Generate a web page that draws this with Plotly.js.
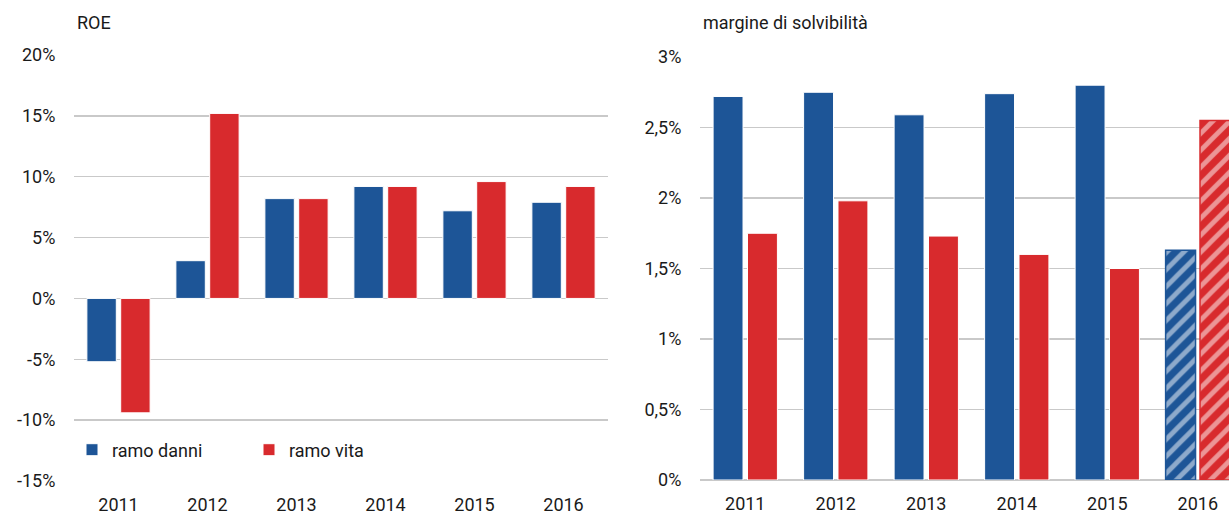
<!DOCTYPE html>
<html>
<head>
<meta charset="utf-8">
<script src="https://cdn.plot.ly/plotly-3.0.1.min.js"></script>
<style>html,body{margin:0;padding:0;background:#fff;}#chart{width:1229px;height:515px;}</style>
</head>
<body>
<div id="chart"></div>
<script>
const years = ['2011', '2012', '2013', '2014', '2015', '2016'];
const roeDanni = [-5.2, 3.1, 8.2, 9.2, 7.2, 7.9];
const roeVita = [-9.4, 15.2, 8.2, 9.2, 9.6, 9.2];
const solvDanni = [2.72, 2.75, 2.59, 2.74, 2.80, 1.63];
const solvVita = [1.75, 1.98, 1.73, 1.60, 1.50, 2.55];
const roeTicks = [-15, -10, -5, 0, 5, 10, 15, 20];
const roeTickText = ['-15%', '-10%', '-5%', '0%', '5%', '10%', '15%', '20%'];
const solvTicks = [0, 0.5, 1, 1.5, 2, 2.5, 3];
const solvTickText = ['0%', '0,5%', '1%', '1,5%', '2%', '2,5%', '3%'];
const seriesNames = ['ramo danni', 'ramo vita'];
const hatched = ['', '', '', '', '', '/'];

const BLUE = '#1d5597';
const RED = '#d82a2d';
const GRID = '#c9c9c9';
const FONT = 'Roboto, "Noto Sans", sans-serif';
const FS = 18;
const W = 1229, H = 515;

const traces = [
  {type: 'bar', x: years, y: roeDanni, name: seriesNames[0], xaxis: 'x', yaxis: 'y',
   marker: {color: BLUE, line: {color: '#ffffff', width: 1}}, hoverinfo: 'skip'},
  {type: 'bar', x: years, y: roeVita, name: seriesNames[1], xaxis: 'x', yaxis: 'y',
   marker: {color: RED, line: {color: '#ffffff', width: 1}}, hoverinfo: 'skip'},
  {type: 'bar', x: years, y: solvDanni, name: seriesNames[0], xaxis: 'x2', yaxis: 'y2', showlegend: false,
   marker: {color: BLUE,
     line: {color: hatched.map(h => h ? BLUE : '#ffffff'), width: hatched.map(h => h ? 1.5 : 1)},
     pattern: {shape: hatched, fgcolor: '#ffffff', bgcolor: BLUE, size: 12, solidity: 0.4, fillmode: 'overlay'}},
   hoverinfo: 'skip'},
  {type: 'bar', x: years, y: solvVita, name: seriesNames[1], xaxis: 'x2', yaxis: 'y2', showlegend: false,
   marker: {color: RED,
     line: {color: hatched.map(h => h ? RED : '#ffffff'), width: hatched.map(h => h ? 1.5 : 1)},
     pattern: {shape: hatched, fgcolor: '#ffffff', bgcolor: RED, size: 12, solidity: 0.4, fillmode: 'overlay'}},
   hoverinfo: 'skip'}
];

const px = v => v / W;
const py = v => 1 - v / H;

const commonY = {
  showgrid: true, gridcolor: GRID, gridwidth: 1.5,
  zeroline: true, zerolinecolor: GRID, zerolinewidth: 1.5,
  showline: false, tickmode: 'array', fixedrange: true,
  ticks: 'outside', ticklen: 14, tickcolor: 'rgba(0,0,0,0)',
  tickfont: {family: FONT, size: FS, color: '#1a1a1a'}
};
const commonX = {
  type: 'category', showgrid: false, zeroline: false, showline: false, fixedrange: true,
  ticks: 'outside', ticklen: 7, tickcolor: 'rgba(0,0,0,0)',
  tickfont: {family: FONT, size: FS, color: '#1a1a1a'}
};

const layout = {
  width: W, height: H,
  margin: {l: 0, r: 0, t: 0, b: 0},
  paper_bgcolor: '#ffffff', plot_bgcolor: '#ffffff',
  barmode: 'group', bargap: 0.24, bargroupgap: 0.13,
  font: {family: FONT, size: FS, color: '#1a1a1a'},
  xaxis: Object.assign({}, commonX, {domain: [px(74), px(608)], anchor: 'y', range: [-0.5, 5.5]}),
  yaxis: Object.assign({}, commonY, {domain: [py(481), py(55)], anchor: 'x', range: [-15, 20],
    tickvals: roeTicks, ticktext: roeTickText}),
  xaxis2: Object.assign({}, commonX, {domain: [px(700), 1], anchor: 'y2', range: [-0.5, 5.345]}),
  yaxis2: Object.assign({}, commonY, {domain: [py(480), py(57)], anchor: 'x2', range: [0, 3],
    tickvals: solvTicks, ticktext: solvTickText}),
  showlegend: true,
  legend: {orientation: 'h', x: px(72), y: py(450), xanchor: 'left', yanchor: 'middle',
    bgcolor: 'rgba(0,0,0,0)', font: {family: FONT, size: FS, color: '#1a1a1a'},
    entrywidth: 132, entrywidthmode: 'pixels', itemclick: false, itemdoubleclick: false},
  annotations: [
    {text: 'ROE', xref: 'paper', yref: 'paper', x: px(75), y: py(22), xanchor: 'left', yanchor: 'middle',
     showarrow: false, font: {family: FONT, size: FS, color: '#1a1a1a'}},
    {text: 'margine di solvibilità', xref: 'paper', yref: 'paper', x: px(701), y: py(22), xanchor: 'left', yanchor: 'middle',
     showarrow: false, font: {family: FONT, size: FS, color: '#1a1a1a'}}
  ]
};

Plotly.newPlot('chart', traces, layout, {displayModeBar: false, staticPlot: true});
</script>
</body>
</html>
